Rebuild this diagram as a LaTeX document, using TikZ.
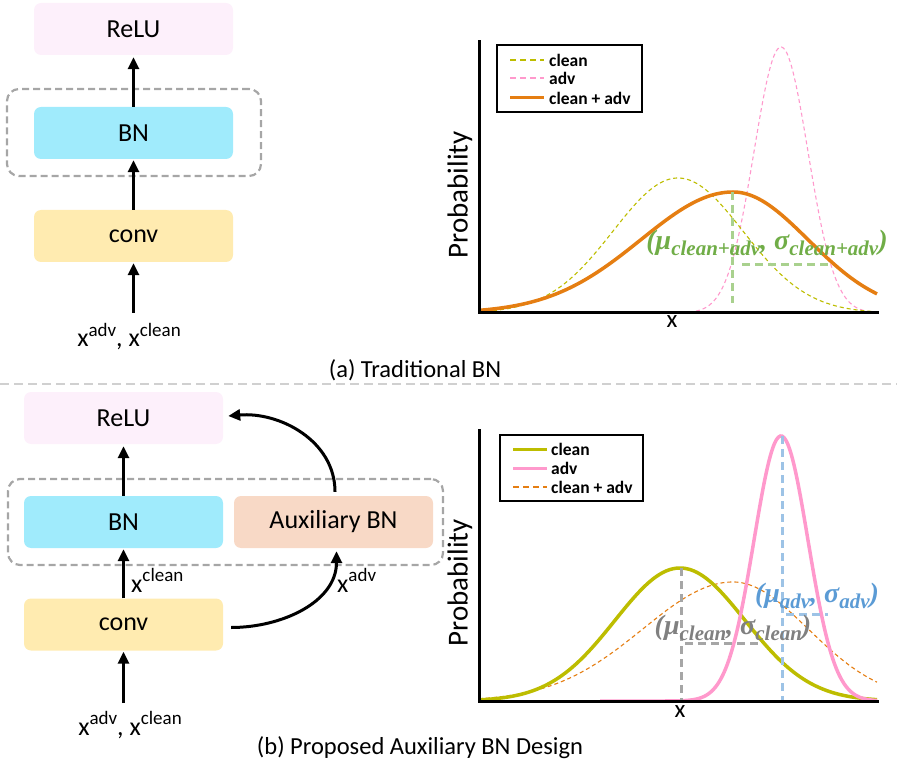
\documentclass[tikz,border=0pt]{standalone}
\usepackage{fontspec}
\setmainfont{Carlito}
\newfontfamily\labfont{Liberation Serif}
\usetikzlibrary{arrows.meta}
\definecolor{relufill}{HTML}{FDF0FB}
\definecolor{bnfill}{HTML}{A0EBFC}
\definecolor{convfill}{HTML}{FFEBB0}
\definecolor{auxfill}{HTML}{F8D9C6}
\definecolor{framegray}{HTML}{A6A6A6}
\definecolor{olive}{HTML}{BDBD00}
\definecolor{pinkc}{HTML}{FF99CC}
\definecolor{orangec}{HTML}{E57E12}
\definecolor{greent}{HTML}{70AD47}
\definecolor{greend}{HTML}{A9D18E}
\definecolor{grayt}{HTML}{808080}
\definecolor{grayd}{HTML}{A6A6A6}
\definecolor{bluet}{HTML}{5B9BD5}
\definecolor{blued}{HTML}{9DC3E6}
\definecolor{sepgray}{HTML}{D0D0D0}
\newcommand{\lsub}[1]{\raisebox{-0.2em}{\fontsize{21}{21}\selectfont #1}}
\newcommand{\lsup}[1]{\raisebox{0.42em}{\fontsize{19}{19}\selectfont #1}}
\tikzset{
  block/.style={rounded corners=7pt, minimum width=199pt, minimum height=52pt, inner sep=0pt, font=\fontsize{26}{30}\selectfont},
  frame/.style={draw=framegray, line width=2.2pt, dash pattern=on 7pt off 4pt, rounded corners=12pt, inner sep=0pt},
  arr/.style={line width=3pt, -{Triangle[length=12pt,width=11pt]}},
  inlab/.style={font=\fontsize{26}{30}\selectfont, inner sep=0pt},
  caption/.style={font=\fontsize{24.5}{28}\selectfont, inner sep=0pt},
  axisline/.style={line width=3pt, line cap=rect},
  legbox/.style={line width=2.5pt},
  legtext/.style={font=\fontsize{17.5}{20}\selectfont\bfseries, anchor=west, inner sep=0pt},
  problab/.style={font=\fontsize{29}{32}\selectfont, rotate=90, inner sep=0pt},
  xlab/.style={font=\fontsize{25}{28}\selectfont, inner sep=0pt},
  thindash/.style={line width=1.1pt, dash pattern=on 4pt off 3pt},
  markdash/.style={line width=3pt, dash pattern=on 8pt off 5pt},
  statlab/.style={font=\labfont\bfseries\itshape\fontsize{28}{32}\selectfont, inner sep=0pt},
  declare function={gauss(\x,\m,\s)=exp(-0.5*((\x-\m)/\s)*((\x-\m)/\s));}
}
\begin{document}
\begin{tikzpicture}[x=1pt,y=-1pt]
\useasboundingbox (0,0) rectangle (897,767);
% ===== (a) =====
\node[frame, minimum width=254pt, minimum height=87pt] (frame1) at (134,132.5) {};
\node[block, fill=relufill] (relu1) at (133.5,29) {ReLU};
\node[block, fill=bnfill] (bn1) at (133.5,133) {BN};
\node[block, fill=convfill] (conv1) at (133.5,236) {conv};
\coordinate (in1) at (133.5,313);
\draw[arr] (bn1.north) -- ([yshift=-2pt]relu1.south);
\draw[arr] (conv1.north) -- ([yshift=-1pt]bn1.south);
\draw[arr] (in1) -- ([yshift=-1pt]conv1.south);
\node[inlab, anchor=base] (lab1) at (129,347) {x\lsup{adv}, x\lsup{clean}};
\node[caption] (cap1) at (415,370) {(a) Traditional BN};
\coordinate (sepL) at (0,384);
\coordinate (sepR) at (897,384);
\draw[sepgray, line width=2pt, dash pattern=on 9pt off 5pt] (sepL) -- (sepR);
% plot (a)
\draw[pinkc, thindash] plot[domain=640:877, samples=120, smooth] (\x,{313-266*gauss(\x,781,27)});
\draw[olive, thindash] plot[domain=479:877, samples=120, smooth] (\x,{313-135*gauss(\x,678,65)});
\draw[orangec, line width=3.5pt] plot[domain=479:733, samples=80, smooth] (\x,{313-121*gauss(\x,733,92)}) -- plot[domain=733:877, samples=60, smooth] (\x,{313-121*gauss(\x,733,75)});
\draw[greend, markdash] (732,192) -- (732,303);
\draw[greend, markdash] (742,265) -- (832,265);
\node[statlab, text=greent] (st1) at (767,243) {(μ\lsub{clean+adv}, σ\lsub{clean+adv})};
\coordinate (o1) at (479,313);
\draw[axisline] (479,42) -- (o1) -- (877,313);
\draw[legbox, fill=white] (497,45) rectangle (642,112);
\draw[olive, line width=1.5pt, dash pattern=on 6pt off 4pt] (510,60) -- (544,60);
\draw[pinkc, line width=1.5pt, dash pattern=on 6pt off 4pt] (510,78) -- (544,78);
\draw[orangec, line width=3pt] (510,98) -- (544,98);
\node[legtext] (l1a) at (549,60) {clean};
\node[legtext] (l1b) at (549,78) {adv};
\node[legtext] (l1c) at (549,98) {clean + adv};
\node[problab] (p1) at (460,195) {Probability};
\node[xlab] (x1) at (672,322) {x};
% ===== (b) =====
\node[frame, minimum width=435pt, minimum height=86pt] (frame2) at (225.5,522) {};
\node[block, fill=relufill] (relu2) at (123.5,418) {ReLU};
\node[block, fill=bnfill] (bn2) at (123.5,522) {BN};
\node[block, fill=auxfill] (aux) at (333.5,522) {Auxiliary BN};
\node[block, fill=convfill] (conv2) at (123.5,624.5) {conv};
\coordinate (in2) at (123.5,703);
\draw[arr] (bn2.north) -- ([yshift=-2pt]relu2.south);
\draw[arr] (conv2.north) -- ([yshift=-1pt]bn2.south);
\draw[arr] (in2) -- ([yshift=-1pt]conv2.south);
\draw[arr] ([xshift=8pt,yshift=-3pt]conv2.east) to[out=0,in=-90] ([xshift=3pt,yshift=-3pt]aux.south);
\draw[arr] ([xshift=1.5pt,yshift=4pt]aux.north) to[out=90,in=5] ([xshift=5pt,yshift=2pt]relu2.east);
\node[inlab, anchor=base] (lab2) at (130,735) {x\lsup{adv}, x\lsup{clean}};
\node[inlab, anchor=base west] (lab3) at (131,592) {x\lsup{clean}};
\node[inlab, anchor=base west] (lab4) at (337,592) {x\lsup{adv}};
\node[caption] (cap2) at (420,748) {(b) Proposed Auxiliary BN Design};
% plot (b)
\draw[orangec, thindash] plot[domain=479:733, samples=80, smooth] (\x,{701-119*gauss(\x,733,90)}) -- plot[domain=733:877, samples=60, smooth] (\x,{701-119*gauss(\x,733,75)});
\draw[olive, line width=3.5pt] plot[domain=479:877, samples=120, smooth] (\x,{701-133*gauss(\x,680,65)});
\draw[pinkc, line width=3.5pt] plot[domain=600:877, samples=150, smooth] (\x,{701-265*gauss(\x,781,27)});
\draw[grayd, markdash] (681,568) -- (681,701);
\draw[grayd, markdash] (685,643) -- (762,643);
\draw[blued, markdash] (782,436) -- (782,701);
\draw[blued, markdash] (786,614) -- (828,614);
\node[statlab, text=grayt] (st2) at (733,628) {(μ\lsub{clean}, σ\lsub{clean})};
\node[statlab, text=bluet] (st3) at (817,596) {(μ\lsub{adv}, σ\lsub{adv})};
\coordinate (o2) at (479,701);
\draw[axisline] (479,430) -- (o2) -- (877,701);
\draw[legbox, fill=white] (500,435) rectangle (643,501);
\draw[olive, line width=3pt] (513,449) -- (547,449);
\draw[pinkc, line width=3pt] (513,468) -- (547,468);
\draw[orangec, line width=1.5pt, dash pattern=on 6pt off 4pt] (513,487) -- (547,487);
\node[legtext] (l2a) at (551,449) {clean};
\node[legtext] (l2b) at (551,468) {adv};
\node[legtext] (l2c) at (551,487) {clean + adv};
\node[problab] (p2) at (460,583) {Probability};
\node[xlab] (x2) at (680,712) {x};
\end{tikzpicture}
\end{document}
